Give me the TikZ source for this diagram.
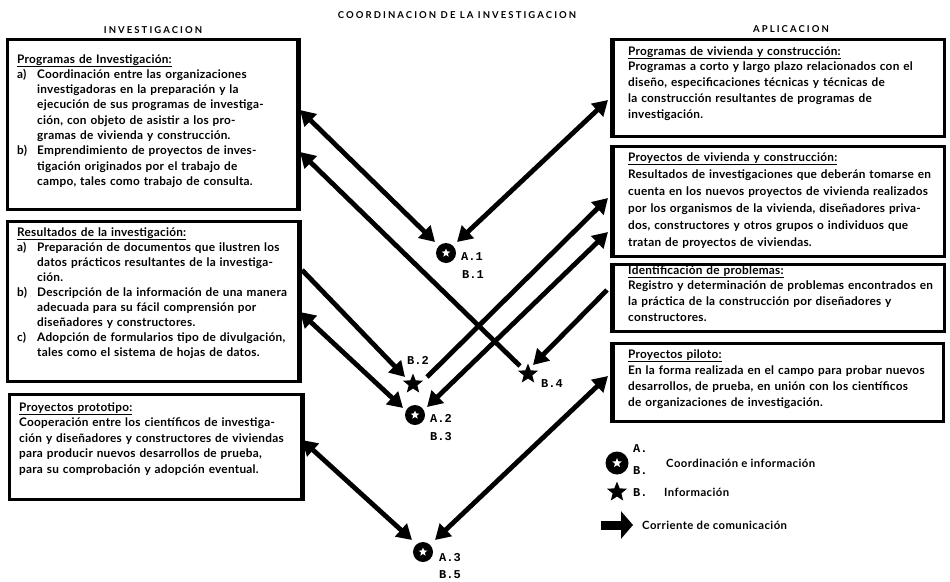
\documentclass[tikz,border=0pt]{standalone}
\usepackage{fontspec}
\setmainfont{Lato}[LetterSpace=2.2]
\newfontfamily\ttlfont{Lato}[LetterSpace=22]
\newfontfamily\lgfont{Lato}[LetterSpace=4]
\newfontfamily\labfont{Liberation Mono}
\usetikzlibrary{arrows.meta,shapes.geometric}
\tikzset{
  frame/.style={draw,line width=2.8pt,anchor=north west,inner sep=0pt},
  inner/.style={line width=5pt},
  txt/.style={anchor=base west,inner sep=0pt,text width=330pt,align=left},
  ttl/.style={inner sep=0pt,font=\ttlfont\bfseries\fontsize{9.5}{10}\selectfont},
  lab/.style={anchor=base west,inner sep=0pt,font=\labfont\bfseries\fontsize{12}{13}\selectfont},
  ring/.style={circle,fill=black,inner sep=0pt,minimum size=20pt},
  wstar/.style={star,star points=5,star point ratio=2.3,fill=white,inner sep=0pt,minimum size=9pt},
  bstar/.style={star,star points=5,star point ratio=2.3,fill=black,inner sep=0pt,minimum size=21pt},
  flow/.style={line width=4.8pt},
  hd/.style={-{Triangle[length=15pt,width=17pt]}},
  hh/.style={{Triangle[length=15pt,width=17pt]}-{Triangle[length=15pt,width=17pt]}},
  th/.style={{Triangle[length=15pt,width=17pt]}-},
  lgt/.style={anchor=base west,inner sep=0pt,font=\lgfont\bfseries\fontsize{11.3}{12}\selectfont},
}
\newcommand{\ind}{\hspace*{20pt}}
\newcommand{\itm}[1]{\makebox[20pt][l]{#1}}
\newcommand{\bsz}[1]{\bfseries\fontsize{11.8}{#1}\selectfont}
\begin{document}
\begin{tikzpicture}[x=1pt,y=-1pt]
\useasboundingbox (0,0) rectangle (950,581);
\fill[white] (0,0) rectangle (950,581);

% titles
\node[ttl] (tmain) at (457,15) {COORDINACION DE LA INVESTIGACION};
\node[ttl] (tinv) at (153,30) {INVESTIGACION};
\node[ttl] (tapl) at (791,29) {APLICACION};

% left boxes
\node[frame,minimum width=290pt,minimum height=170pt] (L1) at (6,38) {};
\draw[inner] (L1.north east) -- (L1.south east);
\node[frame,minimum width=291pt,minimum height=160pt] (L2) at (6,220) {};
\draw[inner] (L2.north east) -- (L2.south east);
\node[frame,minimum width=292pt,minimum height=105pt] (L3) at (8,393) {};
\draw[inner] (L3.north east) -- (L3.south east);

% right boxes
\node[frame,minimum width=331pt,minimum height=97pt] (R1) at (612,38) {};
\draw[inner] (R1.north west) -- (R1.south west);
\node[frame,minimum width=331pt,minimum height=110pt] (R2) at (612,145) {};
\draw[inner] (R2.north west) -- (R2.south west);
\node[frame,minimum width=331pt,minimum height=67pt] (R3) at (612,263) {};
\draw[inner] (R3.north west) -- (R3.south west);
\node[frame,minimum width=330pt,minimum height=78pt] (R4) at (612,342) {};
\draw[inner] (R4.north west) -- (R4.south west);

% texts
\node[txt,font=\bsz{15.3}] (L1t) at (17,63) {\underline{Programas de Investigación:}\\
\itm{a)}Coordinación entre las organizaciones\\
\ind investigadoras en la preparación y la\\
\ind ejecución de sus programas de investiga-\\
\ind ción, con objeto de asistir a los pro-\\
\ind gramas de vivienda y construcción.\\
\itm{b)}Emprendimiento de proyectos de inves-\\
\ind tigación originados por el trabajo de\\
\ind campo, tales como trabajo de consulta.};

\node[txt,font=\bsz{15}] (L2t) at (17,236) {\underline{Resultados de la investigación:}\\
\itm{a)}Preparación de documentos que ilustren los\\
\ind datos prácticos resultantes de la investiga-\\
\ind ción.\\
\itm{b)}Descripción de la información de una manera\\
\ind adecuada para su fácil comprensión por\\
\ind diseñadores y constructores.\\
\itm{c)}Adopción de formularios tipo de divulgación,\\
\ind tales como el sistema de hojas de datos.};

\node[txt,font=\bsz{15.5}] (L3t) at (19,411) {\underline{Proyectos prototipo:}\\
Cooperación entre los científicos de investiga-\\
ción y diseñadores y constructores de viviendas\\
para producir nuevos desarrollos de prueba,\\
para su comprobación y adopción eventual.};

\node[txt,font=\bsz{15.75}] (R1t) at (628,55) {\underline{Programas de vivienda y construcción:}\\
Programas a corto y largo plazo relacionados con el\\
diseño, especificaciones técnicas y técnicas de\\
la construcción resultantes de programas de\\
investigación.};

\node[txt,font=\bsz{17}] (R2t) at (628,161) {\underline{Proyectos de vivienda y construcción:}\\
Resultados de investigaciones que deberán tomarse en\\
cuenta en los nuevos proyectos de vivienda realizados\\
por los organismos de la vivienda, diseñadores priva-\\
dos, constructores y otros grupos o individuos que\\
tratan de proyectos de viviendas.};

\node[txt,font=\bsz{15.7}] (R3t) at (628,274) {\underline{Identificación de problemas:}\\
Registro y determinación de problemas encontrados en\\
la práctica de la construcción por diseñadores y\\
constructores.};

\node[txt,font=\bsz{16}] (R4t) at (628,358) {\underline{Proyectos piloto:}\\
En la forma realizada en el campo para probar nuevos\\
desarrollos, de prueba, en unión con los científicos\\
de organizaciones de investigación.};

% coordination / information points
\node[ring] (A1) at (446,253) {};
\node[wstar] (A1s) at (A1) {};
\node[ring] (A2) at (415,415) {};
\node[wstar] (A2s) at (A2) {};
\node[ring] (A3) at (423,552) {};
\node[wstar] (A3s) at (A3) {};
\node[bstar] (B2) at (413,384) {};
\node[bstar] (B4) at (528,374) {};

\node[lab] (A1a) at (461,260) {A.1};
\node[lab] (A1b) at (462,278) {B.1};
\node[lab] (A2a) at (430,422) {A.2};
\node[lab] (A2b) at (430,440) {B.3};
\node[lab] (A3a) at (439,561) {A.3};
\node[lab] (A3b) at (439,578) {B.5};
\node[lab] (B2l) at (407,364) {B.2};
\node[lab] (B4l) at (541,387) {B.4};

% connector end points
\coordinate (c1a) at (300,110); \coordinate (c1b) at (435,242);
\coordinate (c2a) at (608,100); \coordinate (c2b) at (457,242);
\coordinate (c3a) at (300,152); \coordinate (c3b) at (520,366);
\coordinate (c4a) at (302,270); \coordinate (c4b) at (405,377);
\coordinate (c5a) at (300,312); \coordinate (c5b) at (403,408);
\coordinate (c6a) at (427,377); \coordinate (c6b) at (608,198);
\coordinate (c7a) at (427,407); \coordinate (c7b) at (608,232);
\coordinate (c8a) at (607,290); \coordinate (c8b) at (533,365);
\coordinate (c9a) at (608,376); \coordinate (c9b) at (435,540);
\coordinate (c10a) at (302,440); \coordinate (c10b) at (412,540);

\draw[flow,hh] (c1a) -- (c1b);
\draw[flow,hh] (c2a) -- (c2b);
\draw[flow,th] (c3a) -- (c3b);
\draw[flow,hd] (c4a) -- (c4b);
\draw[flow,hh] (c5a) -- (c5b);
\draw[flow,hd] (c6a) -- (c6b);
\draw[flow,hh] (c7a) -- (c7b);
\draw[flow,hd] (c8a) -- (c8b);
\draw[flow,hh] (c9a) -- (c9b);
\draw[flow,hh] (c10a) -- (c10b);

% legend
\node[ring,minimum size=23pt] (lgc) at (617,463) {};
\node[wstar,minimum size=10pt] (lgcs) at (lgc) {};
\node[lab] (lgA) at (633,452) {A.};
\node[lab] (lgB) at (633,474) {B.};
\node[lgt] (lgct) at (666,467) {Coordinación e información};
\node[bstar] (lgs) at (617,492) {};
\node[lab] (lgsB) at (633,496) {B.};
\node[lgt] (lgst) at (664,496) {Información};
\coordinate (lgaa) at (601,525); \coordinate (lgab) at (633,525);
\draw[line width=9pt,-{Triangle[length=12pt,width=27pt]}] (lgaa) -- (lgab);
\node[lgt] (lgat) at (642,529) {Corriente de comunicación};
\end{tikzpicture}
\end{document}
